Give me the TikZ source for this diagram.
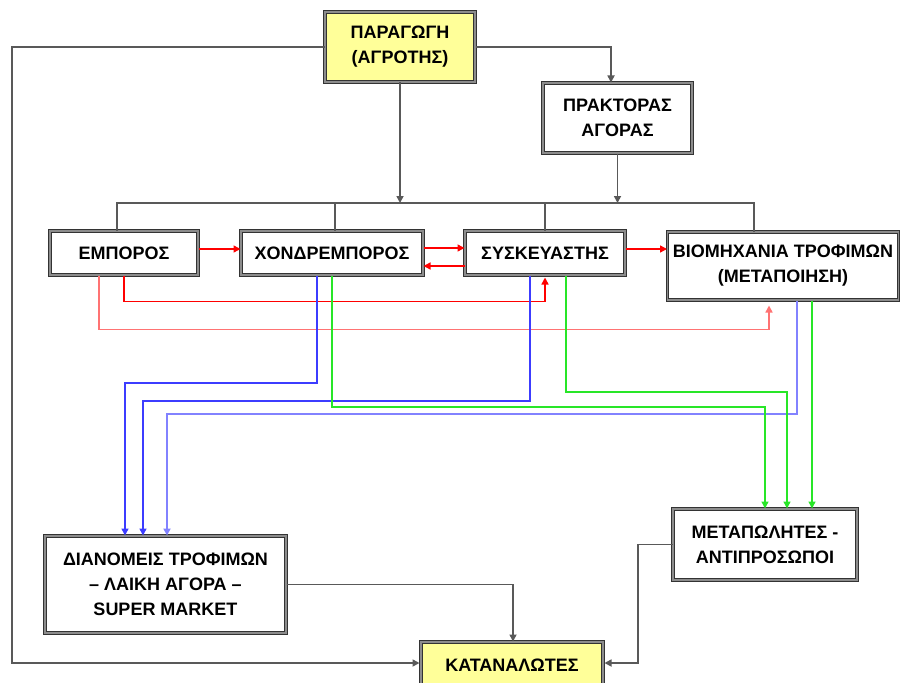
\documentclass[tikz,border=0pt]{standalone}
\usepackage{fontspec}
\setmainfont{Liberation Sans}
\usetikzlibrary{arrows.meta,calc,shadows}
\definecolor{boxyellow}{RGB}{255,255,153}
\definecolor{lgreen}{RGB}{40,230,40}
\definecolor{lblue}{RGB}{60,60,255}
\definecolor{pblue}{RGB}{130,130,255}
\begin{document}
\begin{tikzpicture}[x=1pt,y=-1pt,
  box/.style={draw=black!80, line width=1pt, double=black!45, double distance=1.5pt,
    fill=white, align=center, inner sep=0pt,
    font=\bfseries\fontsize{18}{25}\selectfont,
    drop shadow={shadow xshift=1.4pt, shadow yshift=-1.4pt, fill=black!55, opacity=1}},
  ybox/.style={box, fill=boxyellow},
  arr/.style={-{Triangle[length=7pt,width=7pt]}},
  gl/.style={draw=black!65, line width=1.6pt},
  rd/.style={draw=red, line width=1.4pt},
  rd2/.style={draw=red!55, line width=1.5pt},
  bl/.style={draw=lblue, line width=1.4pt},
  bl2/.style={draw=pblue, line width=1.8pt},
  gr/.style={draw=lgreen, line width=1.4pt}]
\useasboundingbox (0,0) rectangle (901,682);
\fill[white] (0,0) rectangle (901,682);

% nodes
\node[ybox, minimum width=150pt, minimum height=70pt] (prod) at (400,47) {ΠΑΡΑΓΩΓΗ\\(ΑΓΡΟΤΗΣ)};
\node[box, minimum width=149pt, minimum height=70pt] (agent) at (617.5,118) {ΠΡΑΚΤΟΡΑΣ\\ΑΓΟΡΑΣ};
\node[box, minimum width=148pt, minimum height=44pt] (emp) at (124,253) {ΕΜΠΟΡΟΣ};
\node[box, minimum width=182pt, minimum height=44pt] (wh) at (332,253) {ΧΟΝΔΡΕΜΠΟΡΟΣ};
\node[box, minimum width=160pt, minimum height=44pt] (pack) at (545,253) {ΣΥΣΚΕΥΑΣΤΗΣ};
\node[box, minimum width=231pt, minimum height=68pt] (ind) at (783,266) {ΒΙΟΜΗΧΑΝΙΑ ΤΡΟΦΙΜΩΝ\\(ΜΕΤΑΠΟΙΗΣΗ)};
\node[box, minimum width=241pt, minimum height=97pt] (dist) at (165.5,584.5) {ΔΙΑΝΟΜΕΙΣ ΤΡΟΦΙΜΩΝ\\– ΛΑΙΚΗ ΑΓΟΡΑ –\\SUPER MARKET};
\node[box, minimum width=184pt, minimum height=71pt] (ret) at (765,544.5) {ΜΕΤΑΠΩΛΗΤΕΣ -\\ΑΝΤΙΠΡΟΣΩΠΟΙ};
\node[ybox, minimum width=182pt, minimum height=46pt] (cons) at (512,665) {ΚΑΤΑΝΑΛΩΤΕΣ};

\coordinate (bus) at (0,203);

% gray connectors
\draw[gl,arr] (prod.west) -- (12,47) |- ($(cons.west)+(-1,-2)$);
\draw[gl,arr] (prod.east) -| ($(agent.north)+(-6.5,0)$);
\draw[gl,arr] (prod.south) -- (prod.south |- bus);
\draw[gl,arr] (agent.south) -- (agent.south |- bus);
\draw[gl] ($(emp.north)+(-7,0)$) |- ($(ind.north |- bus)+(-29,0)$) -- ($(ind.north)+(-29,0)$);
\draw[gl] ($(wh.north)+(3,0)$) -- ($(wh.north |- bus)+(3,0)$);
\draw[gl] (pack.north) -- (pack.north |- bus);
\draw[gl,arr] (dist.east) -| ($(cons.north)+(1,0)$);
\draw[gl,arr] (ret.west) -- (638,544.5) |- ($(cons.east)+(1,-2)$);

% red connectors
\draw[rd,arr] ($(emp.east)+(0,-4)$) -- ($(wh.west)+(0,-4)$);
\draw[rd,arr] ($(wh.east)+(0,-5)$) -- ($(pack.west)+(0,-5)$);
\draw[rd,arr] ($(pack.west)+(0,13)$) -- ($(wh.east)+(0,13)$);
\draw[rd,arr] ($(pack.east)+(0,-4)$) -- ($(pack.east -| ind.west)+(0,-4)$);
\draw[rd,arr] (emp.south) -- ++(0,26) -| ($(pack.south)+(0,2)$);
\draw[rd2,arr] ($(emp.south)+(-25,0)$) -- ++(0,54) -| ($(ind.south)+(-14,5)$);

% blue connectors
\draw[bl,arr] ($(wh.south)+(-15,0)$) |- (125,383) -- ($(dist.north)+(-40.5,0)$);
\draw[bl,arr] ($(pack.south)+(-15,0)$) |- (143,401) -- ($(dist.north)+(-22.5,0)$);
\draw[bl2,arr] ($(ind.south)+(14,0)$) |- (167,414) -- ($(dist.north)+(1.5,0)$);

% green connectors
\draw[gr,arr] (wh.south) |- (765,407) -- (ret.north);
\draw[gr,arr] ($(pack.south)+(21,0)$) |- (787,392) -- ($(ret.north)+(22,0)$);
\draw[gr,arr] ($(ind.south)+(29,0)$) -- ($(ret.north)+(47,0)$);
\end{tikzpicture}
\end{document}
